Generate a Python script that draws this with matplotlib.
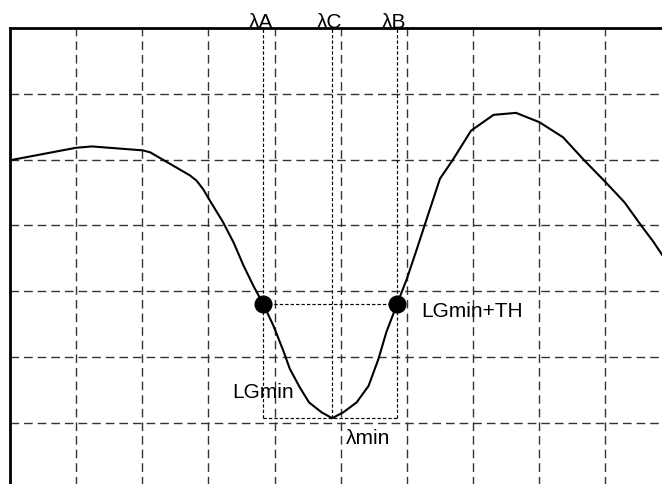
import numpy as np
import matplotlib
matplotlib.use('Agg')
import matplotlib.pyplot as plt

plt.rcParams['font.family'] = ['Liberation Sans', 'DejaVu Sans']

# spectrum curve (grid units)
curve_x = [0.0, 1.0, 1.24, 2.01, 2.12, 2.72, 2.82, 2.92, 3.02, 3.22, 3.38, 3.53,
           3.68, 3.83, 3.98, 4.13, 4.23, 4.38, 4.52, 4.71, 4.87, 5.04, 5.24, 5.42,
           5.57, 5.69, 5.85, 6.00, 6.15, 6.30, 6.50, 6.69, 6.97, 7.31, 7.65, 8.00,
           8.36, 8.68, 9.01, 9.29, 9.54, 9.72, 9.86, 10.0]
curve_y = [4.99, 5.18, 5.20, 5.14, 5.11, 4.76, 4.68, 4.55, 4.38, 4.05, 3.74, 3.39,
           3.08, 2.80, 2.48, 2.10, 1.82, 1.54, 1.31, 1.16, 1.07, 1.16, 1.31, 1.56,
           1.97, 2.38, 2.80, 3.19, 3.64, 4.10, 4.71, 4.99, 5.44, 5.68, 5.71, 5.57,
           5.34, 4.99, 4.65, 4.35, 4.00, 3.76, 3.55, 3.35]

lam_A, lam_C, lam_B = 3.83, 4.87, 5.85
lg_min = 1.07
lg_th = 2.80
x_max, y_max = 10, 7

fig = plt.figure(figsize=(6.62, 4.85), dpi=100)
# axes runs off the right and bottom edges of the figure
ax = fig.add_axes([10/662, (485-489.6)/485, 661.5/662, 460.6/485])
ax.set_xlim(0, x_max)
ax.set_ylim(0, y_max)

grid_kw = dict(color='#333333', lw=1.0, linestyle=(0, (6.2, 3.6)), zorder=1)
for gx in range(1, x_max):
    ax.axvline(gx, **grid_kw)
for gy in range(1, y_max):
    ax.axhline(gy, **grid_kw)

dot_kw = dict(color='black', lw=0.85, linestyle=(0, (2.8, 1.8)), zorder=2)
for lx in [lam_A, lam_C, lam_B]:
    ax.plot([lx, lx], [lg_min, y_max], **dot_kw)
ax.plot([lam_A, lam_B], [lg_th, lg_th], **dot_kw)
ax.plot([lam_A, lam_B], [lg_min, lg_min], **dot_kw)

ax.plot(curve_x, curve_y, color='black', lw=1.5, zorder=3, solid_joinstyle='round')
ax.plot([lam_A, lam_B], [lg_th, lg_th], 'o', color='black', ms=12, zorder=4)

fs = 15
for lx, lab in [(lam_A, 'λA'), (lam_C, 'λC'), (lam_B, 'λB')]:
    ax.text(lx - 0.04, y_max + 0.02, lab, ha='center', va='baseline', fontsize=fs)
ax.text(6.21, 2.71, 'LGmin+TH', ha='left', va='center', fontsize=fs)
ax.text(3.36, 1.48, 'LGmin', ha='left', va='center', fontsize=fs)
ax.text(5.08, 0.78, 'λmin', ha='left', va='center', fontsize=fs)

ax.set_xticks([])
ax.set_yticks([])
for s in ['left', 'top']:
    ax.spines[s].set_linewidth(2)
for s in ['right', 'bottom']:
    ax.spines[s].set_visible(False)

fig.savefig('out.png', dpi=100)
